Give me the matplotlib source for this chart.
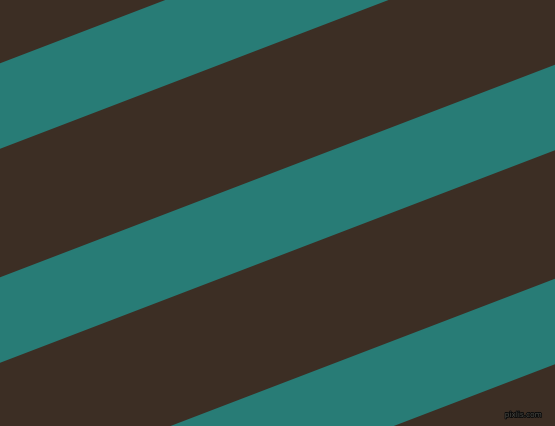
import matplotlib
matplotlib.use("Agg")
import matplotlib.pyplot as plt
import matplotlib.patheffects as pe
import numpy as np

# Stripe geometry (pixel units)
stripe_tops_at_left = [63.3, 277.3, 491.3]   # y of teal stripe upper edge at x=0
stripe_height = 85.5                          # vertical thickness of teal stripes
slope = -0.383                                # dy/dx of the stripes
width_px, height_px = 555, 426
bg_color = "#3C2E24"
stripe_color = "#287C76"
watermark = "pixlis.com"

fig = plt.figure(figsize=(5.55, 4.26), dpi=100)
ax = fig.add_axes([0, 0, 1, 1])
ax.set_facecolor(bg_color)
fig.patch.set_facecolor(bg_color)

x = np.array([0, width_px])
for top in stripe_tops_at_left:
    upper = top + slope * x
    lower = upper + stripe_height
    ax.fill_between(x, upper, lower, color=stripe_color, linewidth=0, antialiased=True)

ax.text(542, 415, watermark, fontsize=5.3, color="#4a4a44", ha="right", va="center",
        family="DejaVu Sans",
        path_effects=[pe.withStroke(linewidth=1.2, foreground="#0c0c0c")])

ax.set_xlim(0, width_px)
ax.set_ylim(height_px, 0)
ax.axis("off")
fig.savefig("out.png", dpi=100, facecolor=bg_color)
